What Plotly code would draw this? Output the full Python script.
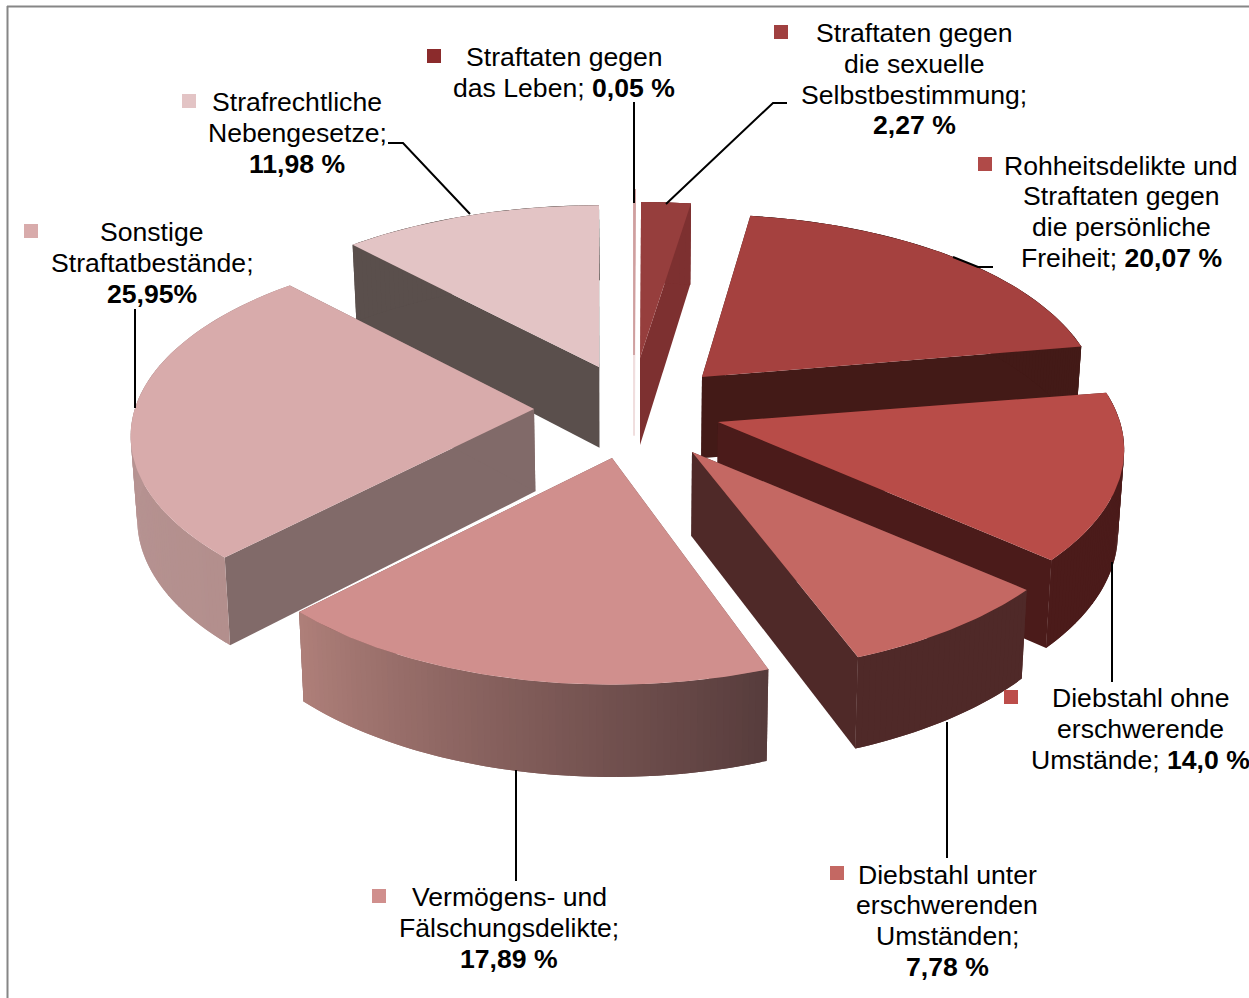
import math
import plotly.graph_objects as go

# ---- chart data -------------------------------------------------------------
categories = ["Straftaten gegen das Leben", "Straftaten gegen die sexuelle Selbstbestimmung",
              "Rohheitsdelikte und Straftaten gegen die persönliche Freiheit",
              "Diebstahl ohne erschwerende Umstände", "Diebstahl unter erschwerenden Umständen",
              "Vermögens- und Fälschungsdelikte", "Sonstige Straftatbestände",
              "Strafrechtliche Nebengesetze"]
values = [0.05, 2.27, 20.07, 14.0, 7.78, 17.89, 25.95, 11.98]

label_lines = [
    ["Straftaten gegen", "das Leben; <b>0,05 %</b>"],
    ["Straftaten gegen", "die sexuelle", "Selbstbestimmung;", "<b>2,27 %</b>"],
    ["Rohheitsdelikte und", "Straftaten gegen", "die persönliche", "Freiheit; <b>20,07 %</b>"],
    ["Diebstahl ohne", "erschwerende", "Umstände; <b>14,0 %</b>"],
    ["Diebstahl unter", "erschwerenden", "Umständen;", "<b>7,78 %</b>"],
    ["Vermögens- und", "Fälschungsdelikte;", "<b>17,89 %</b>"],
    ["Sonstige", "Straftatbestände;", "<b>25,95%</b>"],
    ["Strafrechtliche", "Nebengesetze;", "<b>11,98 %</b>"],
]

# ---- layout of the exploded pie --------------------------------------------
apex_x = [634, 640, 702, 718, 692, 612, 534, 599]
apex_y = [355, 358, 377, 422, 452, 458, 409, 367]
radius_scale = [1.0, 1.0, 0.985, 1.005, 1.005, 1.0, 0.998, 0.995]
y_scale = [1.0, 0.945, 1.0, 1.0, 1.005, 1.03, 0.985, 0.985]
angle_shift_deg = [0.0, 0.0, -0.3, 0.3, 0.0, 1.2, 0.6, 0.0]
depth_scale = [1.0, 1.08, 1.0, 1.0, 1.0, 1.0, 1.0, 1.0]
outline_width = [1.8, 0, 0, 0, 0, 0, 0, 0]
RX, RY, PERSP = 400.0, 188.6, 0.143

top_colors = ["#cf9f9f", "#963e3d", "#a5413f", "#b84c48", "#c46863", "#d08f8d", "#d8abab", "#e3c4c5"]
key_colors = ["#8b2b2c", "#a04040", "#b04a48", "#bc4d4a", "#c46863", "#d08f8d", "#d8abab", "#e3c4c5"]
radial_colors = ["#f0dede", "#7d3030", "#431a17", "#4b1b1a", "#4f2928", "#7a5553", "#816a69", "#5a4f4c"]
wall_from = ["#f0dede", "#7d3030", "#431a17", "#4b1b1a", "#4f2928", "#573c3c", "#b38f8d", "#5a4f4c"]
wall_to = ["#f0dede", "#7d3030", "#431a17", "#4b1b1a", "#4f2928", "#ae7f79", "#bb9999", "#5a4f4c"]
draw_order = [0, 1, 7, 2, 3, 6, 4, 5]

key_x = [434, 781, 985, 1011, 837, 379, 31, 189]
key_y = [56, 32, 164, 697, 873, 896, 231, 101]
label_x = [564, 914, 1121, 1140, 947, 509, 152, 297]
label_y = [[57, 88], [33, 64, 95, 125], [166, 196, 227, 258], [698, 729, 760],
           [875, 905, 936, 967], [897, 928, 959], [232, 263, 294], [102, 133, 164]]
leaders = [
    [(634, 102), (634, 203)],
    [(666, 204), (773, 103), (787, 103)],
    [(953, 257), (978, 267), (993, 267)],
    [(1112, 562), (1112, 682)],
    [(947, 722), (947, 858)],
    [(516, 770), (516, 881)],
    [(135, 309), (135, 408)],
    [(470, 214), (403, 143), (388, 143)],
]


def hex_rgb(h):
    return tuple(int(h[i:i + 2], 16) for i in (1, 3, 5))


def mix(a, b, t):
    ca, cb = hex_rgb(a), hex_rgb(b)
    return "rgb(%d,%d,%d)" % tuple(round(p + (q - p) * t) for p, q in zip(ca, cb))


def rim(i, theta):
    z = math.cos(theta)
    s = 1.0 / (1.0 + PERSP * z) * radius_scale[i]
    return apex_x[i] + RX * math.sin(theta) * s, apex_y[i] - RY * z * s * y_scale[i]


def drop(i, p):
    x, y = p
    d = (75 + 0.036 * (y - 205)) * depth_scale[i]
    return x + (640 - x) * 0.013, y + d


def poly(fig, pts, color, width=0):
    xs = [p[0] for p in pts] + [pts[0][0]]
    ys = [p[1] for p in pts] + [pts[0][1]]
    fig.add_trace(go.Scatter(x=xs, y=ys, mode="lines", fill="toself", fillcolor=color,
                             line=dict(color=color, width=width), hoverinfo="skip", showlegend=False))


fig = go.Figure()
total = sum(values)
start = []
acc = 0.0
for v in values:
    start.append(acc)
    acc += v

for i in draw_order:
    shift = math.radians(angle_shift_deg[i])
    a0 = start[i] / total * 2 * math.pi + shift
    a1 = (start[i] + values[i]) / total * 2 * math.pi + shift
    n = max(2, int(math.degrees(a1 - a0) * 1.2))
    angles = [a0 + (a1 - a0) * k / n for k in range(n + 1)]
    arc = [rim(i, t) for t in angles]
    apex = (apex_x[i], apex_y[i])
    w = outline_width[i]
    # radial walls
    for edge in (arc[0], arc[-1]):
        poly(fig, [apex, edge, drop(i, edge), drop(i, apex)], radial_colors[i], w)
    # outer curved wall: overlapping quads, later ones cover the seam of earlier ones
    for k in range(n):
        col = mix(wall_from[i], wall_to[i], k / max(1, n - 1))
        end = min(k + 2, n)
        band = arc[k:end + 1]
        poly(fig, band + [drop(i, p) for p in reversed(band)], col, w)
    # top face
    poly(fig, [apex] + arc, top_colors[i], w)

# leader lines
for seg in leaders:
    fig.add_trace(go.Scatter(x=[p[0] for p in seg], y=[p[1] for p in seg], mode="lines",
                             line=dict(color="#000000", width=2), hoverinfo="skip", showlegend=False))

# legend keys beside labels
fig.add_trace(go.Scatter(x=key_x, y=key_y, mode="markers", hoverinfo="skip", showlegend=False,
                         marker=dict(symbol="square", size=14, color=key_colors, line=dict(width=0))))

# labels
annotations = []
for i, lines in enumerate(label_lines):
    for line, y in zip(lines, label_y[i]):
        annotations.append(dict(x=label_x[i], y=y, xref="x", yref="y", text=line, showarrow=False,
                                xanchor="center", yanchor="middle",
                                font=dict(family="Liberation Sans", size=26.6, color="#000000")))

frame = [
    dict(type="line", xref="x", yref="y", x0=7.5, x1=7.5, y0=6, y1=998, line=dict(color="#868686", width=2)),
    dict(type="line", xref="x", yref="y", x0=7, x1=1249, y0=6.5, y1=6.5, line=dict(color="#868686", width=2)),
]

fig.update_layout(width=1249, height=998, margin=dict(l=0, r=0, t=0, b=0),
                  paper_bgcolor="white", plot_bgcolor="white",
                  xaxis=dict(range=[0, 1249], visible=False, fixedrange=True),
                  yaxis=dict(range=[998, 0], visible=False, fixedrange=True),
                  annotations=annotations, shapes=frame, showlegend=False)

fig.write_html("out.html", config={"displayModeBar": False},
               post_script="document.body.style.margin='0';")
